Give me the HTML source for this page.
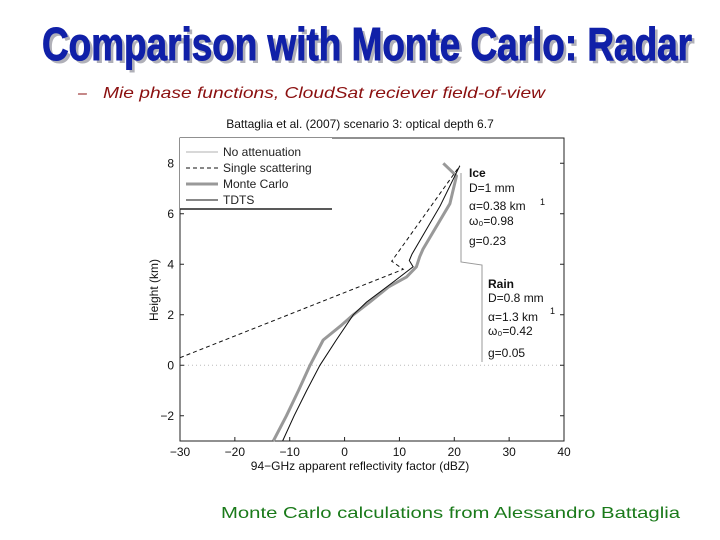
<!DOCTYPE html>
<html><head><meta charset="utf-8"><style>
html,body{margin:0;padding:0;background:#fff;}
svg{display:block;font-family:"Liberation Sans",sans-serif;}
</style></head><body>
<svg id="s" width="720" height="540" viewBox="0 0 720 540">
<g>
<text x="45" y="63" textLength="650" lengthAdjust="spacingAndGlyphs" font-family="'Liberation Sans Narrow','Liberation Sans',sans-serif" font-weight="bold" font-size="46" fill="#b0b0b8">Comparison with Monte Carlo: Radar</text>
<text x="42" y="60" textLength="650" lengthAdjust="spacingAndGlyphs" font-family="'Liberation Sans Narrow','Liberation Sans',sans-serif" font-weight="bold" font-size="46" fill="#1020a8" stroke="#1020a8" stroke-width="1">Comparison with Monte Carlo: Radar</text>
</g>
<text x="78" y="98" font-size="16" font-style="italic" fill="#8b1010">–</text>
<text x="103" y="98" textLength="442" lengthAdjust="spacingAndGlyphs" font-size="16" font-style="italic" fill="#8b1010">Mie phase functions, CloudSat reciever field-of-view</text>
<text x="360" y="128" text-anchor="middle" font-size="12" fill="#111">Battaglia et al. (2007) scenario 3: optical depth 6.7</text>
<g id="plot"></g>
<text x="221" y="518" textLength="459" lengthAdjust="spacingAndGlyphs" font-size="16" fill="#1a7a1a">Monte Carlo calculations from Alessandro Battaglia</text>
</svg>
<script>
const xTicks=[-30,-20,-10,0,10,20,30,40];
const yTicks=[-2,0,2,4,6,8];
const singleX=[-30,10.7,8.6,21];
const singleY=[0.3,3.8,4.12,7.9];
const tdtsX=[-11.3,-9.2,-6.9,-4.5,-1.5,1.6,4,9.5,12.5,11.8,12.3,17.4,21];
const tdtsY=[-3,-2,-1,0,1,2,2.5,3.4,3.9,4.15,4.4,6.3,7.9];
const mcX=[-13,-10.6,-8.4,-6.3,-3.9,-0.5,1.6,4.6,8,11.3,13.1,13.7,14.3,19.2,20.4,18];
const mcY=[-3,-2,-1,0,1,1.6,2,2.5,3.1,3.5,3.9,4.3,4.6,6.4,7.5,8.0];
const noattX=[-11.3,-9.2,-6.9,-4.5,-1.5,1.6,4,9.5,12.5,11.8,12.3,17.4,21];
const noattY=[-3,-2,-1,0,1,2,2.5,3.4,3.9,4.15,4.4,6.3,7.9];
const L=180,R=564,T=138,B=441,x0=-30,x1=40,y0=-3,y1=9;
const sx=v=>L+(v-x0)/(x1-x0)*(R-L);
const sy=v=>B-(v-y0)/(y1-y0)*(B-T);
const NS="http://www.w3.org/2000/svg";
const plot=document.getElementById('plot');
function mk(tag,attrs,parent){const e=document.createElementNS(NS,tag);for(const k in attrs)e.setAttribute(k,attrs[k]);(parent||plot).appendChild(e);return e;}
function pts(xs,ys){return xs.map((x,i)=>sx(x).toFixed(1)+','+sy(ys[i]).toFixed(1)).join(' ');}
let e;
e=mk('rect',{x:L,y:T,width:R-L,height:B-T,fill:'#fff',stroke:'#222','stroke-width':1});


e=mk('line',{x1:L,x2:R,y1:sy(0),y2:sy(0),stroke:'#bbb','stroke-dasharray':'1,3'});


xTicks.forEach(t=>{
 e=mk('line',{x1:sx(t),x2:sx(t),y1:B,y2:B-4,stroke:'#222'});
 
 
 e=mk('text',{x:sx(t),y:B+15,'text-anchor':'middle','font-size':12,fill:'#111'});
 e.textContent=t<0?'\u2212'+(-t):t;
 
 
});
yTicks.forEach(t=>{
 e=mk('line',{x1:L,x2:L+4,y1:sy(t),y2:sy(t),stroke:'#222'});
 
 
 e=mk('line',{x1:R,x2:R-4,y1:sy(t),y2:sy(t),stroke:'#222'});
 
 
 e=mk('text',{x:L-6,y:sy(t)+4,'text-anchor':'end','font-size':12,fill:'#111'});
 e.textContent=t<0?'\u2212'+(-t):t;
 
 
});
e=mk('text',{x:360,y:470,'text-anchor':'middle','font-size':12,fill:'#111'});
e.textContent='94\u2212GHz apparent reflectivity factor (dBZ)';


e=mk('text',{x:0,y:0,'text-anchor':'middle','font-size':12,fill:'#111',transform:'translate(158,290) rotate(-90)'});
e.textContent='Height (km)';


e=mk('polyline',{points:'461,173 461,262 482,265 482,362',fill:'none',stroke:'#999','stroke-width':1});


e=mk('polyline',{points:pts(noattX,noattY),fill:'none',stroke:'#999','stroke-width':0.8});


e=mk('polyline',{points:pts(mcX,mcY),fill:'none',stroke:'#999','stroke-width':3,'stroke-linejoin':'round'});


e=mk('polyline',{points:pts(tdtsX,tdtsY),fill:'none',stroke:'#111','stroke-width':1});


e=mk('polyline',{points:pts(singleX,singleY),fill:'none',stroke:'#111','stroke-width':1,'stroke-dasharray':'4,3'});


e=mk('rect',{x:L,y:T,width:152,height:71,fill:'#fff',stroke:'none'});


e=mk('polyline',{points:`${L},209 332,209`,stroke:'#222','stroke-width':1.5});


const leg=[['No attenuation','#999',0.8,''],['Single scattering','#111',1,'4,3'],['Monte Carlo','#999',3,''],['TDTS','#111',1,'']];
leg.forEach((l,i)=>{
 const y=152+i*16;
 e=mk('line',{x1:186,x2:218,y1:y,y2:y,stroke:l[1],'stroke-width':l[2],'stroke-dasharray':l[3]});
 
 
 e=mk('text',{x:223,y:y+4,'font-size':12,fill:'#222'});
 e.textContent=l[0];
 
 
});
const ann=[[469,177,'Ice',true],[469,192,'D=1 mm'],[469,210,'\u03b1=0.38 km'],[469,225,'\u03c9\u2080=0.98'],[469,245,'g=0.23'],
[488,288,'Rain',true],[488,302,'D=0.8 mm'],[488,321,'\u03b1=1.3 km'],[488,335,'\u03c9\u2080=0.42'],[488,357,'g=0.05']];
ann.forEach(a=>{
 e=mk('text',{x:a[0],y:a[1],'font-size':12,fill:'#111','font-weight':a[3]?'bold':'normal'});
 e.textContent=a[2];
 
 
});
[[540,205],[550,314]].forEach(p=>{
 e=mk('text',{x:p[0],y:p[1],'font-size':9,fill:'#111'});
 e.textContent='1';
 
 
});
</script>
</body></html>
